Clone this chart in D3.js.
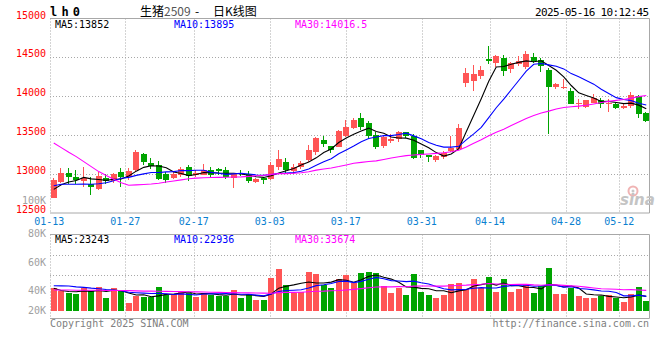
<!DOCTYPE html>
<html>
<head>
<meta charset="utf-8">
<script src="https://cdn.jsdelivr.net/npm/d3@7"></script>
<style>
  body { margin: 0; background: #fff; }
  text { font-family: "DejaVu Sans Mono", monospace; font-size: 10px; }
</style>
</head>
<body>
<div id="viz"></div>
<script>
// trading days shown on the chart
var dates = ["01-13","01-14","01-15","01-16","01-17","01-20","01-21","01-22","01-23","01-24",
  "01-27","02-05","02-06","02-07","02-10","02-11","02-12","02-13","02-14","02-17",
  "02-18","02-19","02-20","02-21","02-24","02-25","02-26","02-27","02-28","03-03",
  "03-04","03-05","03-06","03-07","03-10","03-11","03-12","03-13","03-14","03-17",
  "03-18","03-19","03-20","03-21","03-24","03-25","03-26","03-27","03-28","03-31",
  "04-01","04-02","04-03","04-07","04-08","04-09","04-10","04-11","04-14","04-15",
  "04-16","04-17","04-18","04-21","04-22","04-23","04-24","04-25","04-28","04-29",
  "04-30","05-06","05-07","05-08","05-09","05-12","05-13","05-14","05-15","05-16"];

var opens = [12695,12899,13014,12959,12908,12879,12806,12950,12912,13027,
  12963,13057,13253,13142,13112,13002,12950,12994,13091,12985,
  12994,13048,13061,13048,12955,13019,13002,12904,12946,12938,
  13091,13150,13040,13091,13185,13282,13444,13367,13346,13486,
  13588,13716,13652,13508,13367,13431,13448,13546,13491,13304,
  13240,13176,13218,13295,13325,14167,14196,14260,14481,14430,
  14486,14346,14409,14375,14502,14473,14337,14124,14111,14069,
  13907,13865,13920,13954,13907,13899,13848,13869,14005,13779];
var highs = [12950,13078,13078,13048,13087,12963,13027,13006,13019,13078,
  13078,13304,13269,13205,13163,13027,13036,13091,13112,13048,
  13125,13091,13078,13091,13006,13048,13040,12946,12963,13154,
  13316,13202,13125,13172,13376,13482,13486,13367,13568,13699,
  13720,13779,13686,13537,13495,13516,13550,13546,13516,13312,
  13250,13249,13295,13495,13644,14366,14397,14388,14643,14537,
  14528,14439,14515,14579,14557,14494,14358,14175,14218,14111,
  13963,13954,14034,13983,13963,13912,13899,14056,14014,13792];
var lows = [12695,12886,12879,12879,12835,12730,12793,12879,12886,12835,
  12921,13027,13112,13070,12921,12886,12942,12963,12912,12963,
  12985,12963,12994,12942,12815,12972,12886,12886,12879,12921,
  13048,13014,12997,13070,13154,13240,13346,13274,13346,13473,
  13580,13568,13453,13325,13338,13406,13410,13460,13189,13210,
  13154,13154,13197,13282,13316,14120,14069,14226,14409,14375,
  14260,14295,14388,14346,14430,14315,13517,14090,14090,13899,
  13843,13848,13920,13856,13801,13839,13835,13856,13716,13665];
var closes = [12930,13014,12963,12930,12950,12835,12972,12912,13001,12963,
  13036,13278,13154,13108,12942,12921,13006,13061,12972,13014,
  13048,12994,13040,12963,13006,13006,12912,12938,12925,13112,
  13189,13048,13087,13147,13304,13460,13389,13316,13559,13601,
  13699,13601,13495,13346,13482,13457,13537,13491,13205,13240,
  13218,13227,13269,13338,13588,14295,14290,14337,14452,14515,
  14324,14430,14460,14550,14460,14388,14124,14154,14120,13907,
  13920,13954,13983,13899,13920,13848,13878,14014,13772,13686];

var volumes = [36100,31800,29000,26900,36100,32300,38700,21000,37100,32300,
  12900,23700,22600,21600,38700,25300,26900,30600,29000,22600,
  29000,25300,23700,23700,33400,21000,26500,17300,17300,53200,
  67300,41500,29000,30600,62900,59200,41500,36100,50600,57600,
  44200,61300,62900,61300,40300,29000,36100,25300,59200,30600,
  25300,21000,25300,43100,45200,35000,51100,36100,53900,30600,
  51100,30600,35000,41500,29000,39800,68900,26900,26900,36100,
  24200,21000,21000,23700,25300,20000,14500,26900,38700,15600];

// MA values for days whose window reaches before 01-13
var ma5Lead = [12804,12864,12899,12917];
var ma10Lead = [12851,12869,12870,12870,12871,12870,12875,12888,12915];
var ma30Lead = [13400,13340,13280,13225,13160,13096,13032,12982,12934,12888,
  12857,12862,12866,12872,12883,12898,12912,12926,12940,12948,
  12953,12957,12958,12960,12962,12964,12971,12978,12985];
var vma5Lead = [36100,32600,31000,30600];
var vma10Lead = [40300,40000,39800,38500,37600,36400,35500,34200,33200];
var vma30Lead = [33400,33300,33300,33100,33000,32900,32900,32700,32600,32500,
  32300,31900,31600,31500,31300,31100,30900,30800,30600,30400,
  30100,29800,29600,29400,29200,29000,28800,28600,28400];

var tickDates = ["01-13","01-27","02-17","03-03","03-17","03-31","04-14","04-28","05-12"];
var priceTicks = [15000,14500,14000,13500,13000,12500];
var volTicks = [100000,80000,60000,40000,20000];
var priceHeader = ["MA5:13852","MA10:13895","MA30:14016.5"];
var volHeader = ["MA5:23243","MA10:22936","MA30:33674"];
var maColors = ["#000000","#0000ff","#ff00ff"];

var UP = "#ff5555", DOWN = "#00a400", GRID = "#a8a8a8";
var left = 50, right = 650;
var pTop = 18.5, pBottom = 213, vTop = 234.5, vBottom = 318.5;

function movingAvg(values, n, lead) {
  return values.map(function (v, i) {
    if (i < n - 1) return lead[i];
    return d3.mean(values.slice(i - n + 1, i + 1));
  });
}

var priceMA = [movingAvg(closes, 5, ma5Lead), movingAvg(closes, 10, ma10Lead), movingAvg(closes, 30, ma30Lead)];
var volMA = [movingAvg(volumes, 5, vma5Lead), movingAvg(volumes, 10, vma10Lead), movingAvg(volumes, 30, vma30Lead)];

var x = d3.scaleBand().domain(dates).range([left, right]).paddingInner(0.2).paddingOuter(0.1);
var xGrid = d3.scaleLinear().domain([0, dates.length - 1]).range([49.3, 649.7]);
var y = d3.scaleLinear().domain([12500, 15000]).range([pBottom, pTop]);
var yVol = d3.scaleLinear().domain([0, 100000]).range([310.7, 248.7]);
// the volume tick labels sit where the reference puts them, not on the bar scale
var yVolLabel = d3.scaleLinear().domain([20000, 40000, 80000, 100000]).range([310.7, 290.7, 233.5, 200]);

var svg = d3.select("#viz").append("svg")
  .attr("width", 660)
  .attr("height", 360)
  .style("background", "#fff");

// header
svg.append("text")
  .attr("x", 50).attr("y", 16)
  .attr("textLength", 30)
  .style("font-size", "12px").style("font-weight", "bold")
  .text("l h 0");

var title = svg.append("text")
  .attr("y", 15.5)
  .style("font-family", "'Noto Sans CJK SC', sans-serif")
  .style("font-size", "12px");
title.append("tspan").attr("x", 140).text("生猪");
title.append("tspan").attr("fill", "#555").text("2509");
title.append("tspan").attr("x", 195).text("-");
title.append("tspan").attr("x", 213).text("日K线图");

svg.append("text")
  .attr("x", 649).attr("y", 16)
  .attr("text-anchor", "end")
  .style("font-size", "11px")
  .attr("textLength", 114)
  .text("2025-05-16 10:12:45");

// grid lines
var gridIdx = tickDates.map(function (d) { return dates.indexOf(d); });

[[pTop, pBottom], [vTop, vBottom]].forEach(function (p) {
  svg.append("g").selectAll("line")
    .data(gridIdx.filter(function (i) { return i > 0; }))
    .enter().append("line")
    .attr("x1", function (i) { return Math.round(xGrid(i)) + 0.5; })
    .attr("x2", function (i) { return Math.round(xGrid(i)) + 0.5; })
    .attr("y1", p[0]).attr("y2", p[1])
    .attr("stroke", GRID).attr("stroke-dasharray", "1,2");
});

svg.append("g").selectAll("line")
  .data(priceTicks.slice(1, -1))
  .enter().append("line")
  .attr("x1", left).attr("x2", right)
  .attr("y1", function (d) { return Math.round(y(d)) + 0.5; })
  .attr("y2", function (d) { return Math.round(y(d)) + 0.5; })
  .attr("stroke", GRID).attr("stroke-dasharray", "1,2");

svg.append("g").selectAll("line")
  .data([255.5, 275.5])
  .enter().append("line")
  .attr("x1", left).attr("x2", right)
  .attr("y1", function (d) { return d; })
  .attr("y2", function (d) { return d; })
  .attr("stroke", GRID).attr("stroke-dasharray", "1,2");

// panel borders
[[pTop, pBottom], [vTop, vBottom]].forEach(function (p) {
  var g = svg.append("g").attr("stroke", GRID).attr("fill", "none");
  g.append("path").attr("d", "M" + left + "," + p[0] + "H" + (right - 0.5) + "V" + p[1] + "H" + left);
  g.append("line").attr("x1", left + 0.5).attr("x2", left + 0.5)
    .attr("y1", p[0]).attr("y2", p[1]).attr("stroke-dasharray", "1,2");
});

// sina logo
var logo = svg.append("g");
logo.append("circle").attr("cx", 633).attr("cy", 191).attr("r", 4.5)
  .attr("fill", "none").attr("stroke", "#f0b4b4").attr("stroke-width", 2);
logo.append("circle").attr("cx", 633).attr("cy", 191).attr("r", 1.5).attr("fill", "#c8c8c8");
logo.append("text").attr("x", 620).attr("y", 205)
  .style("font-family", "'DejaVu Sans', sans-serif")
  .style("font-size", "15px").style("font-weight", "bold").style("font-style", "italic")
  .attr("fill", "#c4c4c4").text("sina");

// candles
var candles = svg.append("g");
var bw = 6;
dates.forEach(function (d, i) {
  var bx = Math.round(x(d));
  var color = closes[i] >= opens[i] ? UP : DOWN;
  candles.append("rect")
    .attr("x", bx + 2).attr("width", 1)
    .attr("y", Math.round(y(highs[i])))
    .attr("height", Math.max(1, Math.round(y(lows[i])) - Math.round(y(highs[i]))))
    .attr("fill", color);
  var top = Math.round(y(Math.max(opens[i], closes[i])));
  var bot = Math.round(y(Math.min(opens[i], closes[i])));
  candles.append("rect")
    .attr("x", bx).attr("width", bw)
    .attr("y", top).attr("height", Math.max(1, bot - top))
    .attr("fill", color);
});

// volume bars
svg.append("g").selectAll("rect")
  .data(volumes)
  .enter().append("rect")
  .attr("x", function (v, i) { return Math.round(x(dates[i])); })
  .attr("width", bw)
  .attr("y", function (v) { return Math.round(yVol(v)); })
  .attr("height", function (v) { return Math.round(yVol(0)) - Math.round(yVol(v)); })
  .attr("fill", function (v, i) { return closes[i] >= opens[i] ? UP : DOWN; });

// moving average lines
function maLine(scale) {
  return d3.line()
    .x(function (v, i) { return x(dates[i]) + x.bandwidth() / 2; })
    .y(function (v) { return scale(v); });
}

priceMA.forEach(function (s, k) {
  svg.append("path").datum(s)
    .attr("d", maLine(y))
    .attr("fill", "none").attr("stroke", maColors[k]).attr("stroke-width", 1.1);
});
volMA.forEach(function (s, k) {
  svg.append("path").datum(s)
    .attr("d", maLine(yVol))
    .attr("fill", "none").attr("stroke", maColors[k]).attr("stroke-width", 1.1);
});

// MA headers
[[priceHeader, 28], [volHeader, 242.5]].forEach(function (h) {
  svg.append("g").selectAll("text")
    .data(h[0])
    .enter().append("text")
    .attr("x", function (t, k) { return [55, 174, 295][k]; })
    .attr("y", h[1])
    .attr("fill", function (t, k) { return maColors[k]; })
    .text(function (t) { return t; });
});

// axis labels
svg.append("g").selectAll("text")
  .data(priceTicks)
  .enter().append("text")
  .attr("x", 46).attr("y", function (d) { return y(d) - 3.5; })
  .attr("dy", "0.35em")
  .attr("text-anchor", "end")
  .attr("fill", "#ff0000")
  .text(function (d) { return d; });

svg.append("g").selectAll("text")
  .data(volTicks)
  .enter().append("text")
  .attr("x", 46)
  .attr("y", function (d) { return yVolLabel(d); })
  .attr("dy", "0.35em")
  .attr("text-anchor", "end")
  .attr("fill", "#a0a0a0")
  .text(function (d) { return (d / 1000) + "K"; });

svg.append("g").selectAll("text")
  .data(gridIdx)
  .enter().append("text")
  .attr("x", function (i) { return xGrid(i); })
  .attr("y", 224.8)
  .attr("text-anchor", "middle")
  .attr("fill", "#0a80d0")
  .text(function (i) { return dates[i]; });

// footer
svg.append("text").attr("x", 50).attr("y", 327)
  .attr("fill", "#808080").text("Copyright 2025 SINA.COM");
svg.append("text").attr("x", 649).attr("y", 327)
  .attr("text-anchor", "end")
  .attr("fill", "#808080").text("http://finance.sina.com.cn");
</script>
</body>
</html>
